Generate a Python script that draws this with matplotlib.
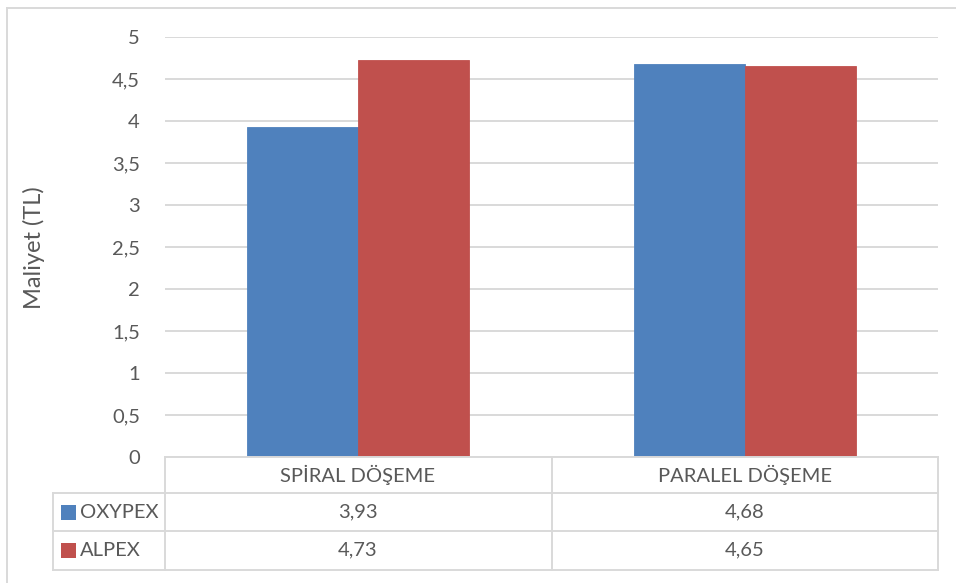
import matplotlib
matplotlib.use('Agg')
import matplotlib.pyplot as plt
import numpy as np
from matplotlib.patches import Rectangle
from matplotlib.lines import Line2D

# ---- data ----
categories = ['SPİRAL DÖŞEME', 'PARALEL DÖŞEME']
series_names = ['OXYPEX', 'ALPEX']
oxypex = [3.93, 4.68]
alpex = [4.73, 4.65]
yticks = [0, 0.5, 1, 1.5, 2, 2.5, 3, 3.5, 4, 4.5, 5]
ytick_labels = ['0', '0,5', '1', '1,5', '2', '2,5', '3', '3,5', '4', '4,5', '5']
ylabel = 'Maliyet (TL)'

colors = ['#4f81bd', '#c0504d']
txt_color = '#595959'
grid_color = '#d9d9d9'

plt.rcParams['font.family'] = ['Lato', 'DejaVu Sans']

W, H = 956, 583
fig = plt.figure(figsize=(W / 100, H / 100), dpi=100)
fig.patch.set_facecolor('white')


def fx(px):
    return px / W


def fy(py):
    return 1 - py / H


ax = fig.add_axes([fx(165), fy(457), (938 - 165) / W, (457 - 37) / H])
x = np.arange(len(categories))
bw = 0.287
series = [oxypex, alpex]
for i, (vals, c) in enumerate(zip(series, colors)):
    ax.bar(x + (i - 0.5) * bw, vals, width=bw, color=c, zorder=3,
           edgecolor=c, linewidth=0.6)

ax.set_xlim(-0.5, len(categories) - 0.5)
ax.set_ylim(0, 5)
ax.set_yticks(yticks)
ax.set_yticklabels(ytick_labels)
ax.set_xticks([])
ax.tick_params(axis='y', length=0, pad=18, labelsize=14.5, labelcolor=txt_color)
ax.yaxis.grid(True, color=grid_color, linewidth=1.4, zorder=0)
ax.set_axisbelow(True)
for s in ax.spines.values():
    s.set_visible(False)

fig.text(fx(34), fy(248), ylabel, rotation=90, ha='center', va='center',
         fontsize=17, color=txt_color)

# ---- data table ----
def hline(y, x0, x1):
    fig.add_artist(Line2D([fx(x0), fx(x1)], [fy(y), fy(y)], color=grid_color,
                          linewidth=1.4, transform=fig.transFigure))


def vline(xp, y0, y1):
    fig.add_artist(Line2D([fx(xp), fx(xp)], [fy(y0), fy(y1)], color=grid_color,
                          linewidth=1.4, transform=fig.transFigure))


hline(457, 165, 938)
hline(493, 53, 938)
hline(531, 53, 938)
hline(570, 53, 938)
vline(53, 493, 570)
vline(165, 457, 570)
vline(551.5, 457, 570)
vline(938, 457, 570)

col_centers = [358, 745]
for cx, cat in zip(col_centers, categories):
    fig.text(fx(cx), fy(475), cat, ha='center', va='center', fontsize=14.5,
             color=txt_color)

row_centers = [512, 550]
for ry, name, vals, c in zip(row_centers, series_names, series, colors):
    fig.add_artist(Rectangle((fx(61), fy(ry + 7.5)), 15 / W, 15 / H,
                             facecolor=c, edgecolor='none',
                             transform=fig.transFigure))
    fig.text(fx(80), fy(ry), name, ha='left', va='center', fontsize=14.5,
             color=txt_color)
    for cx, v in zip(col_centers, vals):
        fig.text(fx(cx), fy(ry), f'{v:.2f}'.replace('.', ','), ha='center',
                 va='center', fontsize=14.5, color=txt_color)

# chart border (left and top visible)
fig.add_artist(Line2D([fx(7), fx(7)], [fy(8), 0], color=grid_color,
                      linewidth=1.4, transform=fig.transFigure))
fig.add_artist(Line2D([fx(7), 1], [fy(8), fy(8)], color=grid_color,
                      linewidth=1.4, transform=fig.transFigure))

fig.savefig('out.png', dpi=100, facecolor='white')
